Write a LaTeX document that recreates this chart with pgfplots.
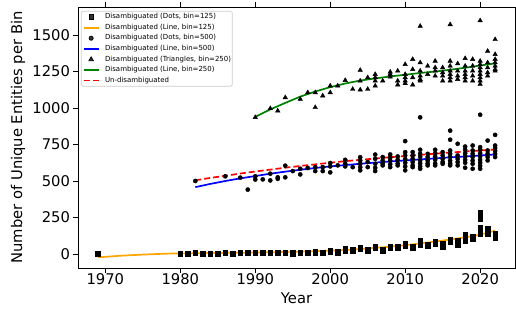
\documentclass[border=0pt]{standalone}
\usepackage{fontspec}
\setmainfont{DejaVu Sans}
\usepackage{pgfplots}
\pgfplotsset{compat=1.18}
\definecolor{mplorange}{HTML}{FFA500}
\definecolor{mplgreen}{HTML}{008000}
\definecolor{legframe}{HTML}{CCCCCC}
\pgfplotsset{
  lineleg/.style={legend image code/.code={\path[draw=none,fill=none] (0bp,-2bp) rectangle (21.5bp,2bp);\draw[##1,sharp corners,line width=1.8bp] (0bp,0bp) -- (15.3bp,0bp);}},
  markleg/.style={legend image code/.code={\path[draw=none,fill=none] (0bp,-2bp) rectangle (21.5bp,2bp);\draw[##1,sharp corners] plot coordinates {(7.6bp,0bp)};}},
}
\begin{document}
\begin{tikzpicture}
\path[use as bounding box] (-78bp,-43bp) rectangle (438bp,268bp);
\begin{axis}[
  scale only axis, width=437bp, height=261bp,
  at={(0,0)}, anchor=south west,
  xmin=1966.35, xmax=2024.65, ymin=-96, ymax=1692,
  xtick={1970,1980,1990,2000,2010,2020},
  ytick={0,250,500,750,1000,1250,1500},
  /pgf/number format/1000 sep={},
  /pgf/number format/assume math mode=true,
  tick align=outside, major tick length=4.5bp,
  tick style={black, line width=0.8bp},
  axis line style={black, line width=0.8bp},
  ticklabel style={font=\fontsize{14.8}{16}\selectfont},
  xticklabel style={yshift=2.5bp},
  xlabel={Year}, ylabel={Number of Unique Entities per Bin},
  label style={font=\fontsize{14.8}{16}\selectfont},
  xlabel style={at={(axis description cs:0.5,-0.115)}, anchor=center},
  ylabel style={at={(axis description cs:-0.1373,0.5)}, anchor=center},
  legend cell align=left,
  legend style={at={(0,1)}, anchor=north west, xshift=3bp, yshift=-4bp,
    font=\fontsize{7}{8}\selectfont, draw=legframe, line width=0.7bp,
    rounded corners=1.5bp, fill=white, fill opacity=0.8, text opacity=1,
    inner xsep=1.3bp, inner ysep=2.4bp,
    nodes={inner sep=0pt, text height=5bp, text depth=1.5bp},
    row sep=4.1bp, column sep=0bp},
]
\addplot[only marks, mark=square*, mark size=2.2bp, black, markleg] table {
1969 3
1980 0
1980 4
1981 2
1981 6
1982 4
1982 9
1983 1
1983 5
1984 0
1984 3
1985 1
1985 4
1986 4
1986 10
1987 2
1987 6
1988 4
1988 9
1989 5
1989 9
1990 6
1990 11
1991 4
1991 8
1992 5
1992 10
1993 6
1993 11
1994 7
1994 13
1995 3
1995 8
1996 5
1996 11
1997 6
1997 13
1998 9
1998 21
1999 4
1999 10
2000 12
2000 26
2001 10
2001 16
2002 22
2002 38
2003 18
2003 28
2004 33
2004 45
2005 18
2005 28
2006 38
2006 52
2007 22
2007 32
2008 42
2008 52
2009 40
2009 50
2010 55
2010 70
2011 42
2011 52
2012 62
2012 78
2012 92
2013 52
2013 65
2014 70
2014 88
2015 50
2015 62
2015 72
2016 85
2016 100
2017 62
2017 78
2017 90
2018 88
2018 100
2018 112
2018 125
2018 136
2019 100
2019 118
2020 140
2020 155
2020 170
2020 182
2020 240
2020 255
2020 270
2020 285
2021 135
2021 150
2021 165
2021 178
2022 110
2022 125
2022 140
};
\addlegendentry{Disambiguated (Dots, bin=125)}
\addplot[mplorange, line width=1.7bp, no marks, lineleg] table {
1969 -23
1972 -12
1975 -4
1978 2
1980 4
1985 7
1990 10
1995 15
2000 23
2003 30
2005 38
2008 50
2010 60
2012 72
2015 92
2018 114
2020 132
2022 160
};
\addlegendentry{Disambiguated (Line, bin=125)}
\addplot[only marks, mark=*, mark size=2.1bp, black, markleg] table {
1982 500
1986 532
1988 523
1989 441
1990 532
1990 510
1991 511
1992 550
1992 504
1993 525
1993 515
1994 605
1994 525
1995 568
1996 584
1996 545
1997 589
1998 595
1998 568
1999 595
1999 568
2000 623
2000 600
2000 559
2001 607
2002 645
2002 618
2002 600
2003 595
2004 663
2004 640
2004 618
2004 595
2004 573
2005 630
2005 595
2006 681
2006 652
2006 618
2006 590
2006 568
2007 664
2007 640
2007 620
2007 607
2008 682
2008 660
2008 640
2008 615
2008 595
2009 668
2009 645
2009 620
2009 607
2010 773
2010 698
2010 675
2010 650
2010 625
2010 600
2010 573
2011 698
2011 675
2011 652
2011 630
2011 607
2011 595
2012 936
2012 714
2012 686
2012 665
2012 640
2012 620
2012 600
2012 584
2013 686
2013 665
2013 640
2013 620
2013 607
2014 714
2014 690
2014 668
2014 645
2014 620
2014 607
2015 698
2015 675
2015 652
2015 630
2015 618
2016 845
2016 783
2016 709
2016 686
2016 665
2016 640
2016 620
2016 607
2017 755
2017 675
2017 652
2017 630
2017 607
2018 736
2018 714
2018 690
2018 668
2018 645
2018 625
2018 591
2019 743
2019 709
2019 686
2019 665
2019 640
2019 618
2019 584
2020 954
2020 732
2020 714
2020 690
2020 668
2020 645
2020 625
2020 605
2020 584
2021 777
2021 709
2021 686
2021 664
2021 641
2022 816
2022 743
2022 725
2022 705
2022 685
2022 664
};
\addlegendentry{Disambiguated (Dots, bin=500)}
\addplot[blue, line width=1.7bp, no marks, lineleg] table {
1982 458
1984 480
1986 500
1988 518
1990 534
1992 550
1994 564
1996 577
1998 589
2000 600
2002 609
2004 618
2006 626
2008 634
2010 641
2012 648
2014 655
2016 662
2018 668
2020 675
2022 682
};
\addlegendentry{Disambiguated (Line, bin=500)}
\addplot[only marks, mark=triangle*, mark size=2.6bp, black, markleg] table {
1990 936
1992 997
1993 981
1994 1072
1996 1061
1997 1106
1998 1106
1998 1004
1999 1084
2000 1152
2000 1106
2001 1152
2002 1190
2003 1129
2004 1259
2004 1186
2004 1125
2005 1209
2005 1129
2006 1231
2006 1209
2006 1186
2006 1152
2007 1186
2008 1247
2008 1231
2008 1213
2009 1254
2009 1186
2009 1159
2010 1299
2010 1231
2010 1209
2010 1186
2010 1168
2011 1334
2011 1265
2011 1209
2011 1159
2012 1561
2012 1311
2012 1254
2012 1220
2012 1197
2012 1186
2013 1288
2013 1231
2014 1322
2014 1277
2014 1254
2014 1220
2015 1277
2015 1243
2015 1220
2015 1186
2016 1572
2016 1322
2016 1288
2016 1254
2016 1231
2016 1209
2016 1186
2017 1304
2017 1254
2017 1220
2017 1197
2018 1340
2018 1288
2018 1254
2018 1231
2018 1209
2018 1186
2019 1334
2019 1288
2019 1254
2019 1220
2019 1186
2020 1599
2020 1322
2020 1299
2020 1277
2020 1254
2020 1231
2020 1209
2020 1186
2020 1163
2021 1390
2021 1311
2021 1277
2021 1243
2021 1220
2022 1470
2022 1368
2022 1334
2022 1311
2022 1288
2022 1265
2022 1254
};
\addlegendentry{Disambiguated (Triangles, bin=250)}
\addplot[mplgreen, line width=1.7bp, no marks, lineleg] table {
1990 940
1992 990
1994 1035
1996 1078
1998 1113
2000 1143
2002 1168
2004 1188
2006 1203
2008 1216
2010 1228
2012 1240
2014 1250
2016 1262
2018 1276
2020 1291
2022 1306
};
\addlegendentry{Disambiguated (Line, bin=250)}
\addplot[red, line width=1.7bp, dash pattern=on 6bp off 3bp, no marks, lineleg] table {
1982 505
1984 521
1986 536
1988 551
1990 565
1992 578
1994 591
1996 603
1998 614
2000 625
2002 636
2004 645
2006 654
2008 663
2010 671
2012 679
2014 687
2016 695
2018 702
2020 709
2022 716
};
\addlegendentry{Un-disambiguated}
\end{axis}
\end{tikzpicture}
\end{document}
